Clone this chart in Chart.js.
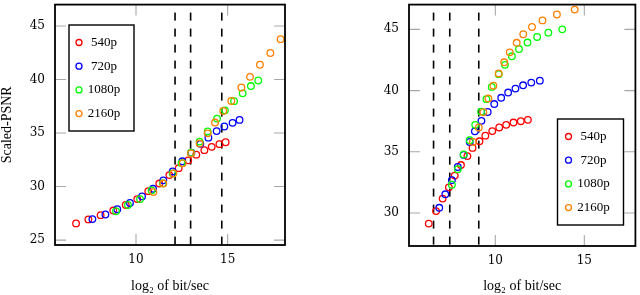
<!DOCTYPE html>
<html>
<head>
<meta charset="utf-8">
<script src="https://cdn.jsdelivr.net/npm/chart.js@4"></script>
<style>
    html, body { margin: 0; padding: 0; background: #fff; }
    .row { display: flex; width: 640px; height: 295px; }
    canvas { display: block; }
</style>
</head>
<body>
<div class="row">
    <canvas id="leftChart" width="320" height="295"></canvas>
    <canvas id="rightChart" width="320" height="295"></canvas>
</div>
<script>
const seriesNames = ['540p', '720p', '1080p', '2160p'];
const seriesColors = ['#ff0000', '#0000ff', '#00ff00', '#ff8000'];

// left panel: [log2 bit/sec, scaled PSNR]
const left540 = [[6.73, 26.56], [7.4, 26.93], [8.07, 27.33], [8.76, 27.76], [9.44, 28.28], [10.07, 28.83], [10.67, 29.57], [11.27, 30.28],
    [11.82, 31.07], [12.33, 31.72], [12.85, 32.45], [13.29, 32.98], [13.73, 33.4], [14.13, 33.71], [14.55, 33.96], [14.89, 34.14]];
const left720 = [[7.62, 26.96], [8.33, 27.39], [8.98, 27.88], [9.67, 28.47], [10.33, 29.08], [10.93, 29.79], [11.49, 30.58], [12.0, 31.41],
    [12.53, 32.36], [13.02, 33.16], [13.51, 33.99], [13.95, 34.57], [14.4, 35.18], [14.82, 35.61], [15.27, 35.95], [15.65, 36.23]];
const left1080 = [[8.91, 27.7], [9.56, 28.28], [10.22, 28.83], [10.85, 29.63], [11.47, 30.31], [12.0, 31.23], [12.49, 32.18], [13.0, 33.16],
    [13.47, 34.2], [13.91, 35.15], [14.42, 36.35], [14.85, 37.12], [15.35, 37.98], [15.82, 38.71], [16.27, 39.39], [16.67, 39.91]];
const left2160 = [[10.95, 29.48], [11.49, 30.28], [12.04, 31.23], [12.55, 32.18], [13.0, 33.1], [13.47, 34.02], [13.91, 34.97], [14.31, 35.98],
    [14.76, 37.06], [15.2, 38.0], [15.75, 39.26], [16.22, 40.25], [16.76, 41.38], [17.33, 42.48], [17.89, 43.77]];

// right panel
const right540 = [[6.26, 29.14], [6.67, 30.16], [7.04, 31.18], [7.39, 32.1], [7.72, 33.06], [8.07, 33.92], [8.43, 34.65], [8.72, 35.32],
    [9.11, 35.86], [9.44, 36.32], [9.83, 36.69], [10.22, 36.99], [10.61, 37.2], [11.02, 37.39], [11.43, 37.5], [11.83, 37.61]];
const right720 = [[6.85, 30.43], [7.19, 31.53], [7.56, 32.69], [7.89, 33.76], [8.22, 34.75], [8.56, 35.81], [8.85, 36.67], [9.22, 37.53],
    [9.57, 38.25], [9.94, 38.9], [10.33, 39.41], [10.72, 39.84], [11.13, 40.16], [11.56, 40.43], [12.02, 40.65], [12.5, 40.81]];
const right1080 = [[7.56, 32.31], [7.89, 33.58], [8.22, 34.78], [8.56, 35.94], [8.87, 37.2], [9.2, 38.28], [9.5, 39.3], [9.8, 40.3],
    [10.19, 41.34], [10.54, 42.1], [10.93, 42.8], [11.33, 43.39], [11.81, 43.92], [12.35, 44.38], [12.98, 44.73], [13.76, 45.0]];
const right2160 = [[8.74, 35.81], [9.07, 36.99], [9.33, 38.23], [9.61, 39.35], [9.89, 40.4], [10.19, 41.4], [10.5, 42.31], [10.81, 43.12],
    [11.2, 43.9], [11.57, 44.6], [12.06, 45.19], [12.65, 45.73], [13.46, 46.21], [14.46, 46.61]];

// dashed vertical markers
const leftCuts = [12.13, 12.98, 14.68];
const rightCuts = [6.53, 7.44, 9.07];

const xTickValues = [10, 15];
const leftYTickValues = [25, 30, 35, 40, 45];
const rightYTickValues = [30, 35, 40, 45];

const serif = '"Liberation Serif", "DejaVu Serif", serif';
const tickFont = { family: '"DejaVu Serif", serif', size: 12 };

const framePlugin = {
    id: 'frame',
    beforeDatasetsDraw(chart, args, opts) {
        const { ctx, chartArea: area, scales } = chart;
        const x = scales.x;
        const y = scales.y;
        ctx.save();

        // pgfplots style inner ticks on all four sides
        ctx.strokeStyle = '#a8a8a8';
        ctx.lineWidth = 1.1;
        ctx.beginPath();
        y.ticks.forEach((tick) => {
            const py = y.getPixelForValue(tick.value);
            ctx.moveTo(area.left, py);
            ctx.lineTo(area.left + 11, py);
            ctx.moveTo(area.right, py);
            ctx.lineTo(area.right - 11, py);
        });
        x.ticks.forEach((tick) => {
            const px = x.getPixelForValue(tick.value);
            ctx.moveTo(px, area.bottom);
            ctx.lineTo(px, area.bottom - 11);
            ctx.moveTo(px, area.top);
            ctx.lineTo(px, area.top + 11);
        });
        ctx.stroke();

        ctx.strokeStyle = '#000';
        ctx.lineWidth = 1.6;
        ctx.setLineDash([8, 8]);
        ctx.lineDashOffset = 8;
        (opts.cuts || []).forEach((value) => {
            const px = x.getPixelForValue(value);
            ctx.beginPath();
            ctx.moveTo(px, area.top);
            ctx.lineTo(px, area.bottom);
            ctx.stroke();
        });
        ctx.restore();
    },
    afterDraw(chart, args, opts) {
        const { ctx, chartArea: area } = chart;
        ctx.save();
        ctx.strokeStyle = '#000';
        ctx.lineWidth = 1.8;
        ctx.strokeRect(area.left, area.top, area.right - area.left, area.bottom - area.top);

        const box = opts.legend;
        if (box) {
            ctx.fillStyle = '#fff';
            ctx.fillRect(box.x, box.y, box.w, box.h);
            ctx.lineWidth = 1.4;
            ctx.strokeRect(box.x, box.y, box.w, box.h);
            chart.data.datasets.forEach((dataset, index) => {
                const cy = box.y + 17.5 + index * 23.7;
                ctx.beginPath();
                ctx.arc(box.x + box.marker, cy, 3, 0, Math.PI * 2);
                ctx.strokeStyle = dataset.borderColor;
                ctx.lineWidth = 1.3;
                ctx.stroke();
                ctx.fillStyle = '#000';
                ctx.font = `13px ${serif}`;
                ctx.textAlign = 'center';
                ctx.textBaseline = 'middle';
                ctx.fillText(dataset.label, box.x + box.marker + 25, cy);
            });
        }
        ctx.restore();
    },
};

function buildDatasets(seriesList) {
    return seriesList.map((points, index) => ({
        label: seriesNames[index],
        data: points.map(([x, y]) => ({ x, y })),
        borderColor: seriesColors[index],
        backgroundColor: 'rgba(0,0,0,0)',
        pointRadius: 3.3,
        pointBorderWidth: 1.3,
        pointHoverRadius: 3.3,
        showLine: false,
        order: seriesList.length - index,
    }));
}

function createChart(canvasId, panel) {
    return new Chart(document.getElementById(canvasId).getContext('2d'), {
        type: 'scatter',
        data: { datasets: buildDatasets(panel.series) },
        plugins: [framePlugin],
        options: {
            responsive: false,
            animation: false,
            devicePixelRatio: 1,
            layout: { padding: { left: 0, right: panel.padRight, top: 2, bottom: 0 } },
            events: [],
            plugins: {
                legend: { display: false },
                tooltip: { enabled: false },
                frame: { cuts: panel.cuts, legend: panel.legend },
            },
            scales: {
                x: {
                    type: 'linear',
                    min: panel.xMin,
                    max: panel.xMax,
                    grid: { display: false, drawTicks: false },
                    border: { display: false },
                    afterBuildTicks(scale) {
                        scale.ticks = xTickValues.map((value) => ({ value }));
                    },
                    afterFit(scale) {
                        scale.height = panel.xHeight;
                        scale.paddingLeft = 0;
                        scale.paddingRight = 0;
                    },
                    ticks: { font: tickFont, color: '#000', padding: 8, maxRotation: 0 },
                    title: {
                        display: true,
                        text: 'log₂ of bit/sec',
                        color: '#000',
                        font: { family: serif, size: 14, lineHeight: 1 },
                        padding: { top: 0, bottom: 2 },
                    },
                },
                y: {
                    type: 'linear',
                    min: panel.yMin,
                    max: panel.yMax,
                    grid: { display: false, drawTicks: false },
                    border: { display: false },
                    afterBuildTicks(scale) {
                        scale.ticks = panel.yTicks.map((value) => ({ value }));
                    },
                    afterFit(scale) {
                        scale.width = panel.yWidth;
                        scale.paddingTop = 0;
                        scale.paddingBottom = 0;
                    },
                    ticks: { font: tickFont, color: '#000', padding: 10 },
                    title: {
                        display: Boolean(panel.yTitle),
                        text: panel.yTitle || '',
                        color: '#000',
                        font: { family: serif, size: 14, lineHeight: 1 },
                        padding: 0,
                    },
                },
            },
        },
    });
}

createChart('leftChart', {
    series: [left540, left720, left1080, left2160],
    cuts: leftCuts,
    xMin: 5.58, xMax: 18.13,
    yMin: 24.54, yMax: 47.0,
    yTicks: leftYTickValues,
    yTitle: 'Scaled-PSNR',
    yWidth: 55,
    xHeight: 50,
    padRight: 35,
    legend: { x: 69, y: 25, w: 65, h: 106, marker: 10 },
});

createChart('rightChart', {
    series: [right540, right720, right1080, right2160],
    cuts: rightCuts,
    xMin: 5.15, xMax: 17.87,
    yMin: 27.31, yMax: 47.02,
    yTicks: rightYTickValues,
    yTitle: '',
    yWidth: 89,
    xHeight: 49,
    padRight: 2,
    legend: { x: 237.5, y: 119, w: 66, h: 106, marker: 11 },
});
</script>
</body>
</html>
